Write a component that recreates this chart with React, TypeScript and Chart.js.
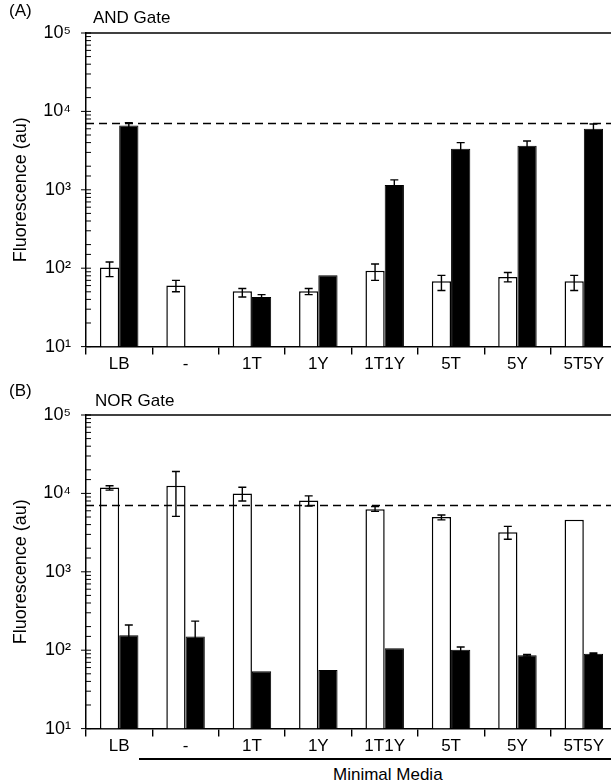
import { useEffect, useRef } from 'react';
import Chart from 'chart.js/auto';

const categories = ['LB', '-', '1T', '1Y', '1T1Y', '5T', '5Y', '5T5Y'];
const yTickLabels: Record<number, string> = { 10: '10¹', 100: '10²', 1000: '10³', 10000: '10⁴', 100000: '10⁵' };
const thresholdLine = 7000;

// AND gate
const andWhite = [102, 60, 51, 51, 93, 68, 77, 68];
const andWhiteLow = [78, 50, 43, 46, 70, 52, 67, 52];
const andWhiteHigh = [120, 70, 55, 55, 113, 81, 88, 81];
const andBlack = [6600, null, 43, 81, 1150, 3330, 3650, 6000];
const andBlackLow = [6100, null, 40, 80, 1000, 2900, 3200, 5500];
const andBlackHigh = [7200, null, 46, 83, 1340, 4000, 4200, 6900];

// NOR gate
const norWhite = [11900, 12500, 10000, 8100, 6300, 5000, 3200, 4600];
const norWhiteLow = [11000, 5100, 8000, 6900, 5900, 4600, 2600, 4500];
const norWhiteHigh = [12500, 19000, 12000, 9300, 6800, 5300, 3800, 4700];
const norBlack = [155, 150, 54, 56, 106, 101, 86, 90];
const norBlackLow = [130, 110, 53, 56, 106, 95, 84, 88];
const norBlackHigh = [210, 235, 55, 56, 106, 110, 88, 92];

const FONT = 'Liberation Sans, Arial, sans-serif';

type Panel = {
  white: (number | null)[];
  black: (number | null)[];
  errs: { low: (number | null)[]; high: (number | null)[] }[];
};

const panelPlugin = {
  id: 'panelDecor',
  afterDatasetsDraw(chart: any, _a: any, opts: any) {
    const { ctx, chartArea, scales } = chart;
    const y = scales.y;
    ctx.save();
    ctx.strokeStyle = '#000';
    ctx.lineWidth = 1.4;
    // error bars
    opts.errs.forEach((e: any, di: number) => {
      const meta = chart.getDatasetMeta(di);
      meta.data.forEach((bar: any, i: number) => {
        if (e.low[i] == null || e.high[i] == null) return;
        const yl = y.getPixelForValue(e.low[i]);
        const yh = y.getPixelForValue(e.high[i]);
        if (Math.abs(yl - yh) < 1.5) return;
        ctx.beginPath();
        ctx.moveTo(bar.x, yl); ctx.lineTo(bar.x, yh);
        ctx.moveTo(bar.x - 4, yl); ctx.lineTo(bar.x + 4, yl);
        ctx.moveTo(bar.x - 4, yh); ctx.lineTo(bar.x + 4, yh);
        ctx.stroke();
      });
    });
    // top border
    ctx.lineWidth = 1.5;
    ctx.beginPath();
    ctx.moveTo(chartArea.left, chartArea.top); ctx.lineTo(chartArea.right, chartArea.top);
    ctx.stroke();
    // inward log ticks
    ctx.lineWidth = 1;
    y.ticks.forEach((t: any) => {
      const py = y.getPixelForValue(t.value);
      const major = yTickLabels[t.value] !== undefined;
      ctx.beginPath();
      ctx.moveTo(chartArea.left - (major ? 5 : 0), py);
      ctx.lineTo(chartArea.left + 5, py);
      ctx.stroke();
    });
    // dashed threshold
    const ty = y.getPixelForValue(opts.threshold);
    ctx.setLineDash([8, 5]);
    ctx.lineWidth = 1.4;
    ctx.beginPath();
    ctx.moveTo(chartArea.left, ty); ctx.lineTo(chartArea.right, ty);
    ctx.stroke();
    ctx.restore();
  },
};

function PanelChart({ panel, top }: { panel: Panel; top: number }) {
  const canvasRef = useRef<HTMLCanvasElement>(null);

  useEffect(() => {
    if (!canvasRef.current) return;
    const chart = new Chart(canvasRef.current, {
      type: 'bar',
      data: {
        labels: categories,
        datasets: [
          { data: panel.white as any, backgroundColor: '#fff', borderColor: '#000', borderWidth: 1.5 },
          { data: panel.black as any, backgroundColor: '#000', borderColor: '#000', borderWidth: 1 },
        ],
      },
      options: {
        animation: false,
        responsive: false,
        events: [],
        layout: { padding: { top: 33, right: 0, left: 10, bottom: 0 } },
        datasets: { bar: { categoryPercentage: 0.58, barPercentage: 1 } },
        plugins: {
          legend: { display: false },
          tooltip: { enabled: false },
          panelDecor: { errs: panel.errs, threshold: thresholdLine },
        } as any,
        scales: {
          x: {
            offset: true,
            grid: { offset: true, drawOnChartArea: false, tickLength: 8, color: '#000', lineWidth: 1.4 },
            border: { color: '#000', width: 1.5 },
            ticks: { color: '#000', font: { family: FONT, size: 17 }, padding: 0, maxRotation: 0 },
          },
          y: {
            type: 'logarithmic',
            min: 10,
            max: 100000,
            afterFit: (s: any) => { s.width = 76; },
            grid: { display: false },
            border: { color: '#000', width: 1.5 },
            ticks: {
              color: '#000',
              font: { family: FONT, size: 18 },
              padding: 7,
              autoSkip: false,
              callback: (v: any) => yTickLabels[v as number] ?? '',
            },
            title: { display: true, text: 'Fluorescence (au)', color: '#000', font: { family: FONT, size: 18 }, padding: 0 },
          },
        },
      },
      plugins: [panelPlugin],
    });
    return () => chart.destroy();
  }, [panel]);

  return (
    <canvas
      ref={canvasRef}
      width={617}
      height={375}
      style={{ position: 'absolute', left: 0, top, width: 617, height: 375 }}
    />
  );
}

const andPanel: Panel = {
  white: andWhite,
  black: andBlack,
  errs: [{ low: andWhiteLow, high: andWhiteHigh }, { low: andBlackLow, high: andBlackHigh }],
};
const norPanel: Panel = {
  white: norWhite,
  black: norBlack,
  errs: [{ low: norWhiteLow, high: norWhiteHigh }, { low: norBlackLow, high: norBlackHigh }],
};

const textStyle = { position: 'absolute' as const, fontFamily: FONT, fontSize: 17, color: '#000', whiteSpace: 'nowrap' as const, lineHeight: '20px' };

export default function App() {
  return (
    <div style={{ position: 'fixed', left: 0, top: 0, width: 611, height: 783, overflow: 'hidden', background: '#fff' }}>
      <PanelChart panel={andPanel} top={0} />
      <PanelChart panel={norPanel} top={382} />
      <div style={{ ...textStyle, left: 9, top: 1 }}>(A)</div>
      <div style={{ ...textStyle, left: 93, top: 8 }}>AND Gate</div>
      <div style={{ ...textStyle, left: 9, top: 381 }}>(B)</div>
      <div style={{ ...textStyle, left: 95, top: 391 }}>NOR Gate</div>
      <div style={{ position: 'absolute', left: 139, top: 758, width: 480, height: 1.5, background: '#000' }} />
      <div style={{ ...textStyle, left: 333, top: 765 }}>Minimal Media</div>
    </div>
  );
}
